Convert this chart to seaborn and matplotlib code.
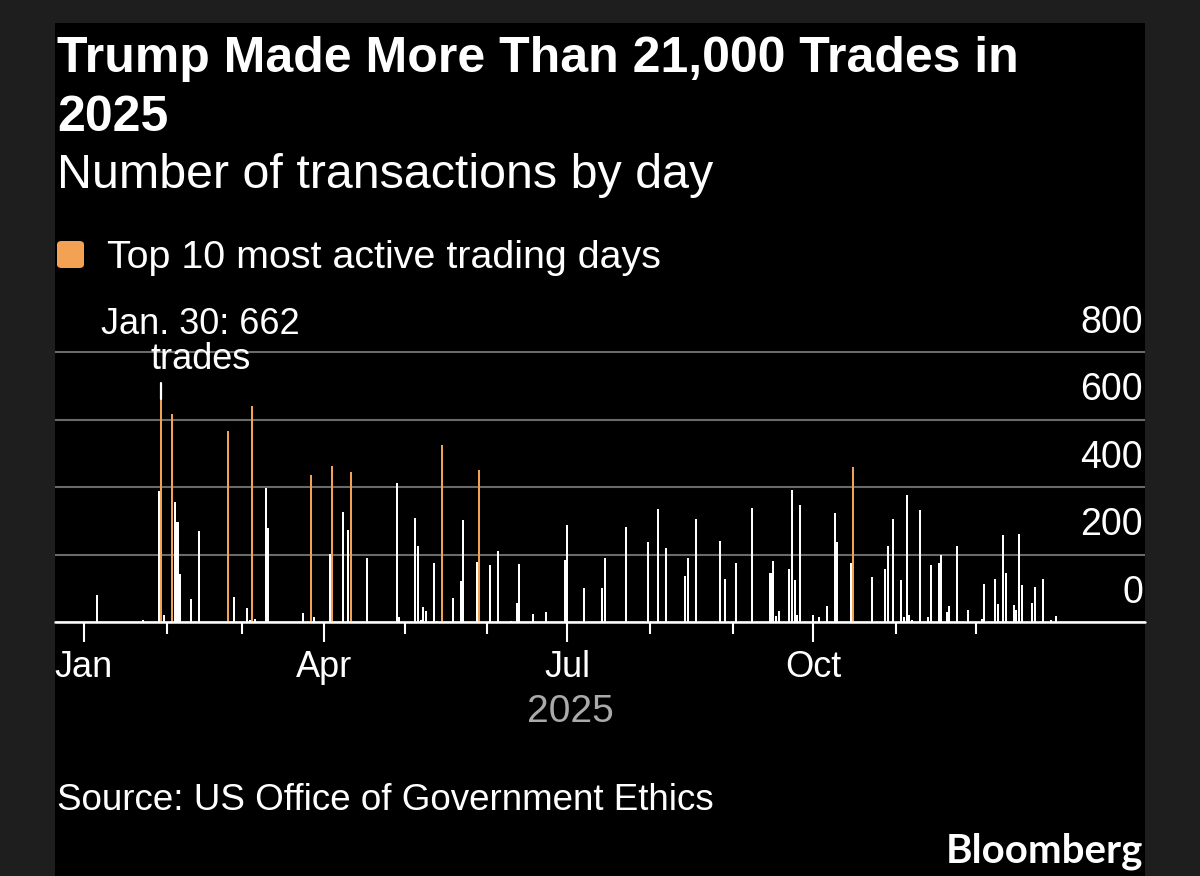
import numpy as np
import pandas as pd
import seaborn as sns
import matplotlib.pyplot as plt
from matplotlib.patches import Rectangle, FancyBboxPatch


#########################
# Data
#########################

dates = [
    "2025-01-06", "2025-01-23", "2025-01-29", "2025-01-30", "2025-01-31",
    "2025-02-03", "2025-02-04", "2025-02-05", "2025-02-06", "2025-02-10",
    "2025-02-13", "2025-02-24", "2025-02-26",
    "2025-03-03", "2025-03-04", "2025-03-05", "2025-03-06", "2025-03-10",
    "2025-03-11", "2025-03-24", "2025-03-27", "2025-03-28",
    "2025-04-03", "2025-04-04", "2025-04-08", "2025-04-10", "2025-04-11",
    "2025-04-17", "2025-04-28", "2025-04-29",
    "2025-05-05", "2025-05-06", "2025-05-07", "2025-05-08", "2025-05-09",
    "2025-05-12", "2025-05-13", "2025-05-15", "2025-05-19", "2025-05-22",
    "2025-05-23", "2025-05-28", "2025-05-29",
    "2025-06-02", "2025-06-05", "2025-06-10", "2025-06-12", "2025-06-13",
    "2025-06-18", "2025-06-23", "2025-06-30",
    "2025-07-01", "2025-07-07", "2025-07-14", "2025-07-15", "2025-07-23",
    "2025-07-31",
    "2025-08-04", "2025-08-07", "2025-08-14", "2025-08-15", "2025-08-18",
    "2025-08-27", "2025-08-29",
    "2025-09-02", "2025-09-08", "2025-09-15", "2025-09-16", "2025-09-17",
    "2025-09-18", "2025-09-22", "2025-09-23", "2025-09-24", "2025-09-25",
    "2025-09-26",
    "2025-10-01", "2025-10-03", "2025-10-06", "2025-10-09", "2025-10-10",
    "2025-10-15", "2025-10-16", "2025-10-23", "2025-10-28", "2025-10-29",
    "2025-10-31",
    "2025-11-03", "2025-11-04", "2025-11-05", "2025-11-06", "2025-11-07",
    "2025-11-10", "2025-11-13", "2025-11-14", "2025-11-17", "2025-11-18",
    "2025-11-20", "2025-11-21", "2025-11-24", "2025-11-28",
    "2025-12-03", "2025-12-04", "2025-12-08", "2025-12-09", "2025-12-11",
    "2025-12-12", "2025-12-15", "2025-12-16", "2025-12-17", "2025-12-18",
    "2025-12-22", "2025-12-23", "2025-12-26", "2025-12-29", "2025-12-31",
]

trades = [
    81, 5, 387, 662, 22,
    615, 356, 296, 143, 68,
    269, 566, 75,
    41, 7, 639, 9, 397,
    279, 28, 436, 15,
    201, 461, 325, 272, 443,
    191, 412, 14,
    307, 224, 6, 45, 32,
    176, 4, 523, 71, 122,
    303, 177, 450,
    170, 209, 4, 56, 173,
    24, 29, 185,
    288, 101, 100, 190, 281,
    236,
    334, 218, 135, 189, 306,
    239, 126,
    176, 338, 146, 180, 18,
    34, 156, 390, 124, 20,
    346,
    20, 14, 48, 323, 237,
    176, 458, 132, 156, 226,
    306,
    124, 15, 375, 22, 5,
    333, 15, 170, 175, 200,
    31, 48, 224, 35,
    8, 114, 128, 54, 258,
    146, 50, 35, 262, 111,
    57, 103, 128, 5, 18,
]

y_ticks = [0, 200, 400, 600, 800]
quarter_labels = ["Jan", "Apr", "Jul", "Oct"]

title_1 = "Trump Made More Than 21,000 Trades in"
title_2 = "2025"
subtitle = "Number of transactions by day"
legend_label = "Top 10 most active trading days"
source = "Source: US Office of Government Ethics"


#########################
# Style
#########################

W, H = 1200, 876
bg_frame = "#1e1e1e"
orange = "#f2a252"
grid_gray = "#6a6a6a"


def fx(px):
    return px / W


def fy(py):
    return 1 - py / H


sns.set_theme(style="dark")
plt.rcParams["font.family"] = ["Liberation Sans", "DejaVu Sans"]
plt.rcParams["text.color"] = "white"


#########################
# Prepare data
#########################

year_start = pd.Timestamp("2025-01-01")
df = pd.DataFrame({"date": pd.to_datetime(dates), "trades": trades})
df["day"] = (df["date"] - year_start).dt.days
rank = df["trades"].rank(ascending=False, method="first")
df["kind"] = np.where(rank <= 10, "top", "other")

month_starts = pd.date_range("2025-01-01", "2025-12-01", freq="MS")
month_days = list((month_starts - year_start).days)


#########################
# Figure
#########################

fig = plt.figure(figsize=(12, 8.76), dpi=100, facecolor=bg_frame)
fig.add_artist(Rectangle((fx(55), 0), fx(1145) - fx(55), fy(23),
                         transform=fig.transFigure, facecolor="black",
                         edgecolor="none", zorder=-1))

px_per_trade = 67.5 / 200
ax = fig.add_axes([fx(55), fy(622), fx(1145) - fx(55), 880 * px_per_trade / H])
ax.set_facecolor("none")

sns.barplot(data=df, x="day", y="trades", hue="kind",
            hue_order=["other", "top"],
            palette={"other": "white", "top": orange}, saturation=1,
            native_scale=True, dodge=False, errorbar=None, width=0.75,
            linewidth=0, legend=False, ax=ax, zorder=3)

ax.set_xlim(-10.86, 397.2)
ax.set_ylim(0, 880)
ax.set_xlabel("")
ax.set_ylabel("")
for s in ax.spines.values():
    s.set_visible(False)

# x axis: quarter labels, month ticks
ax.set_xticks(month_days[::3], quarter_labels)
ax.set_xticks(month_days, minor=True)
ax.tick_params(axis="x", which="major", length=14.4, width=1.5, color="white",
               pad=6, labelsize=26, labelcolor="white", bottom=True)
ax.tick_params(axis="x", which="minor", length=8.6, width=1.5, color="white",
               bottom=True)

# y axis: grid + labels sitting above the lines on the right
ax.set_yticks(y_ticks)
ax.tick_params(axis="y", left=False, labelleft=False)
ax.grid(axis="y", color=grid_gray, lw=1.5)
ax.grid(axis="x", visible=False)
ax.set_axisbelow(True)
for v in y_ticks:
    ax.annotate(f"{v}", xy=(1, v), xycoords=("axes fraction", "data"),
                xytext=(-1.5, 13.7), textcoords="offset points",
                ha="right", va="baseline", fontsize=27, color="white")

ax.axhline(0, color="white", lw=1.8, clip_on=False, zorder=5)

# annotation for the busiest day
top = df.loc[df["trades"].idxmax()]
ax.plot([top["day"], top["day"]], [top["trades"], top["trades"] + 46],
        color="white", lw=1.6, zorder=4)
ax.annotate(f"{top['date']:%b}. {top['date'].day}: {top['trades']}\ntrades",
            xy=(top["day"], top["trades"]), xytext=(28, 21.6),
            textcoords="offset points", ha="center", va="baseline",
            fontsize=26, color="white", linespacing=1.0)

# titles, legend, footer
fig.text(fx(57), fy(72), title_1, fontsize=36, fontweight="bold", va="baseline")
fig.text(fx(57), fy(131), title_2, fontsize=36, fontweight="bold", va="baseline")
fig.text(fx(57), fy(188), subtitle, fontsize=34.8, va="baseline")

fig.add_artist(FancyBboxPatch((fx(57), fy(268)), fx(27), 27 / H,
                              boxstyle="round,pad=0,rounding_size=0.004",
                              transform=fig.transFigure, facecolor=orange,
                              edgecolor="none"))
fig.text(fx(107), fy(268), legend_label, fontsize=28.4, va="baseline")

fig.text(fx(570), fy(722), "2025", fontsize=28, color="#aaaaaa",
         ha="center", va="baseline")
fig.text(fx(57), fy(810), source, fontsize=26.5, va="baseline")
fig.text(fx(1143), fy(862), "Bloomberg", fontsize=29, fontweight="bold",
         ha="right", va="baseline", family=["Lato", "DejaVu Sans"])

plt.savefig("out.png", dpi=100, facecolor=bg_frame)
